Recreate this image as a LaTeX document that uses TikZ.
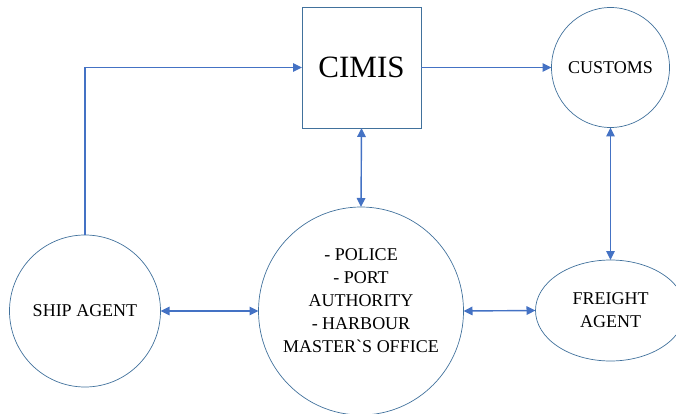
\documentclass[tikz,border=0pt]{standalone}
\usepackage{fontspec}
\setmainfont{Liberation Serif}[Ligatures=TeXOff]
\usetikzlibrary{shapes.geometric}
\usetikzlibrary{arrows.meta}
\usetikzlibrary{positioning}

\definecolor{flowblue}{HTML}{4472C4}
\definecolor{edgeblue}{HTML}{41719C}

\begin{document}
\begin{tikzpicture}[x=1pt, y=-1pt,
  shapeline/.style={draw=edgeblue, line width=0.7pt, inner sep=0pt, outer sep=0pt},
  bubble/.style={shapeline, ellipse},
  flow/.style={flowblue, line width=1.4pt, -{Triangle[length=9pt,width=8.5pt]}},
  twoway/.style={flowblue, line width=1.4pt, {Triangle[length=9pt,width=8.5pt]}-{Triangle[length=9pt,width=8.5pt]}},
  txt/.style={align=center, inner sep=0pt, font=\fontsize{18}{23}\selectfont}]
  % Fix the page size
  \useasboundingbox (0,0) rectangle (676,414);

  % Shapes
  \node[shapeline, rectangle, minimum width=119pt, minimum height=121pt,
        font=\fontsize{31}{36}\selectfont] (cimis) at (361.5,67.5) {CIMIS};
  \node[bubble, minimum width=118pt, minimum height=120pt] (customs) at (610.5,67.5) {};
  \node[bubble, minimum width=151pt, minimum height=152pt] (ship) at (85,311) {};
  \node[bubble, minimum width=205pt, minimum height=208pt] (police) at (361,311) {};
  \node[bubble, minimum width=150pt, minimum height=101pt] (freight) at (610.5,310.5) {};

  % Texts
  \node[txt] (customs-txt) at (customs) {CUSTOMS};
  \node[txt] (ship-txt) at (ship) {SHIP AGENT};
  \node[txt] (police-txt) at (361,300.5)
    {- POLICE\\- PORT\\AUTHORITY\\- HARBOUR\\MASTER\char"60 S OFFICE};
  \node[txt] (freight-txt) at (freight) {FREIGHT\\AGENT};

  % Connectors
  \draw[flow] (ship.north) |- (cimis.west);
  \draw[flow] (cimis.east) -- (customs.west);
  \draw[twoway] (cimis.south) -- (police.north);
  \draw[twoway] (customs.south) -- (freight.north);
  \draw[twoway] (ship.east) -- (police.west);
  \draw[twoway] (police.east) -- (freight.west);
\end{tikzpicture}
\end{document}
